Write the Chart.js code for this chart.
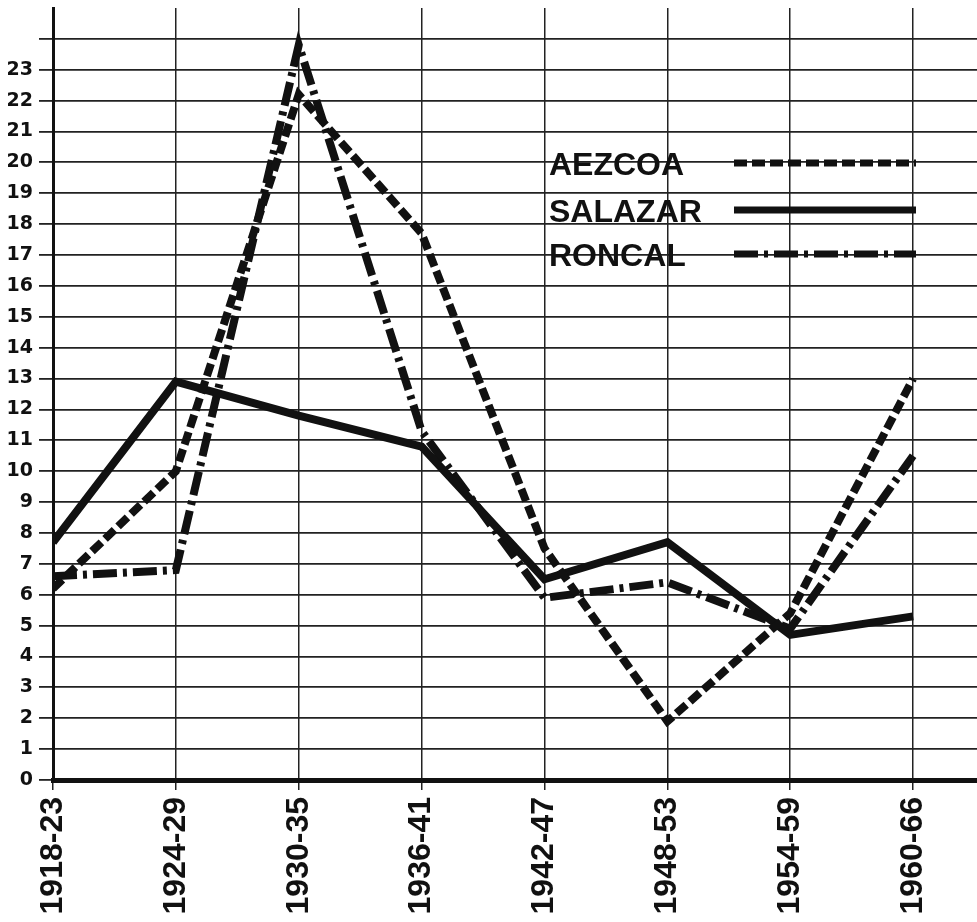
<!DOCTYPE html>
<html>
<head>
<meta charset="utf-8">
<script src="https://cdn.jsdelivr.net/npm/chart.js@4"></script>
<style>
  body { margin: 0; background: #fff; }
  #box { width: 977px; height: 922px; }
</style>
</head>
<body>
<div id="box"><canvas id="valleyChart"></canvas></div>
<script>
// periods on the x axis
const periods = ['1918-23', '1924-29', '1930-35', '1936-41', '1942-47', '1948-53', '1954-59', '1960-66'];

// values per valley
const aezcoa = [6.2, 10.0, 22.2, 17.7, 7.5, 1.9, 5.4, 13.0];
const salazar = [7.7, 12.9, 11.8, 10.8, 6.5, 7.7, 4.7, 5.3];
const roncal = [6.6, 6.8, 23.8, 11.3, 5.9, 6.4, 4.9, 10.5];

const seriesNames = ['AEZCOA', 'SALAZAR', 'RONCAL'];

// y labels stop at 23
const lastLabel = 23;

function toPoints(values) {
  return values.map((v, i) => ({ x: i, y: v }));
}

// legend drawn inside the plot, top right
const legendPlugin = {
  id: 'valleyLegend',
  afterDatasetsDraw(chart) {
    const ctx = chart.ctx;
    const rows = [163, 210, 254];
    ctx.save();
    chart.data.datasets.forEach((ds, i) => {
      ctx.fillStyle = '#111';
      ctx.font = 'bold 32px "Liberation Sans"';
      ctx.textBaseline = 'alphabetic';
      ctx.textAlign = 'left';
      ctx.fillText(ds.label, 549, rows[i] + 12);
      ctx.strokeStyle = '#111';
      ctx.lineWidth = 7;
      ctx.setLineDash(ds.borderDash || []);
      ctx.beginPath();
      ctx.moveTo(734, rows[i]);
      ctx.lineTo(916, rows[i]);
      ctx.stroke();
    });
    ctx.restore();
  }
};

document.addEventListener("DOMContentLoaded", function () {

  const data = {
    datasets: [{
      label: seriesNames[0],
      data: toPoints(aezcoa),
      borderColor: '#111',
      borderWidth: 8,
      borderDash: [13, 5],
      pointRadius: 0
    }, {
      label: seriesNames[1],
      data: toPoints(salazar),
      borderColor: '#111',
      borderWidth: 8,
      pointRadius: 0
    }, {
      label: seriesNames[2],
      data: toPoints(roncal),
      borderColor: '#111',
      borderWidth: 8,
      borderDash: [24, 6, 4, 6],
      pointRadius: 0
    }]
  };

  const config = {
    type: 'line',
    data,
    options: {
      responsive: true,
      maintainAspectRatio: false,
      animation: false,
      layout: { padding: { top: 8, right: 0, left: 0, bottom: 0 } },
      plugins: {
        legend: { display: false },
        tooltip: { enabled: false }
      },
      scales: {
        x: {
          type: 'linear',
          min: 0,
          max: 7.52,
          afterFit(scale) {
            scale.height = 142;
            scale.paddingLeft = 0;
            scale.paddingRight = 0;
          },
          border: { color: '#111', width: 5 },
          grid: { color: '#222', lineWidth: 1.5, tickLength: 10 },
          ticks: {
            stepSize: 1,
            includeBounds: false,
            autoSkip: false,
            maxRotation: 90,
            minRotation: 90,
            padding: 7,
            color: '#111',
            font: { family: 'Liberation Sans', size: 32, weight: 'bold' },
            callback: (v) => periods[v] || ''
          }
        },
        y: {
          min: 0,
          max: 25,
          afterFit(scale) {
            scale.width = 53;
            scale.paddingTop = 0;
            scale.paddingBottom = 0;
          },
          border: { color: '#111', width: 3 },
          grid: {
            color: (c) => c.tick && c.tick.value > 24 ? 'rgba(0,0,0,0)' : '#222',
            lineWidth: 1.8,
            tickLength: 14
          },
          ticks: {
            stepSize: 1,
            autoSkip: false,
            padding: 6,
            color: '#111',
            font: { family: 'DejaVu Sans', size: 19, weight: 'bold' },
            callback: (v) => v <= lastLabel ? v : ''
          }
        }
      }
    },
    plugins: [legendPlugin]
  };

  new Chart(
    document.getElementById('valleyChart'),
    config
  );
})
</script>
</body>
</html>
